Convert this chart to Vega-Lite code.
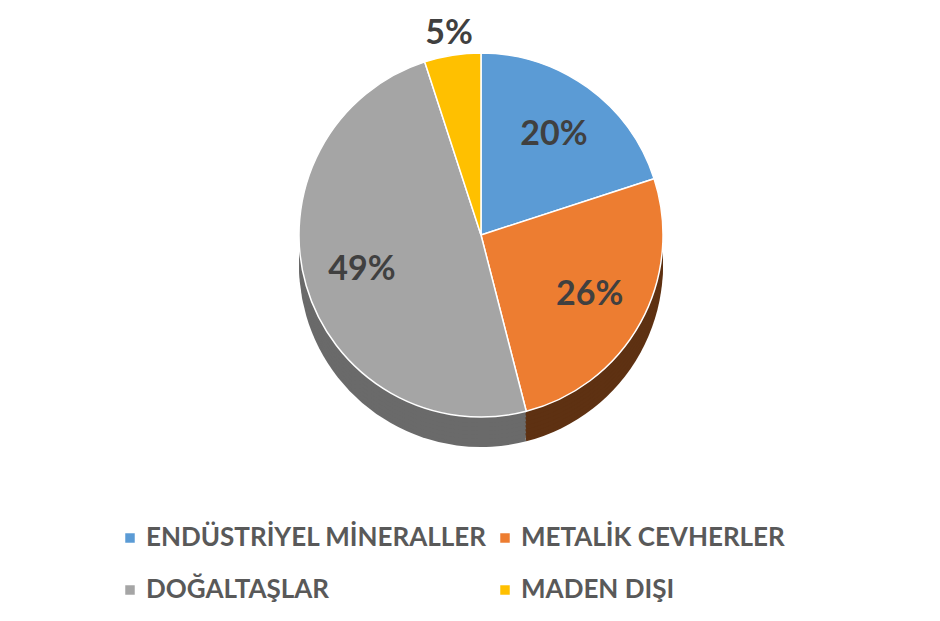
{
  "$schema": "https://vega.github.io/schema/vega-lite/v6.json",
  "autosize": "none",
  "width": 918,
  "height": 470,
  "padding": {"left": 22, "top": 0, "right": 0, "bottom": 151},
  "background": "white",
  "config": {"view": {"stroke": null}},
  "data": {
    "values": [
      {"cat": "ENDÜSTRİYEL MİNERALLER", "value": 20, "order": 1, "label": "20%"},
      {"cat": "METALİK CEVHERLER", "value": 26, "order": 2, "label": "26%"},
      {"cat": "DOĞALTAŞLAR", "value": 49, "order": 3, "label": "49%"},
      {"cat": "MADEN DIŞI", "value": 5, "order": 4, "label": "5%"}
    ]
  },
  "encoding": {
    "theta": {"field": "value", "type": "quantitative", "stack": true},
    "order": {"field": "order", "type": "quantitative"}
  },
  "layer": [
    {
      "mark": {"type": "arc", "outerRadius": 182, "yOffset": 30},
      "encoding": {"fill": {"field": "label", "type": "nominal", "legend": null, "scale": {"domain": ["20%", "26%", "49%", "5%"], "range": ["#2e5a82", "#5e3112", "#6a6a6a", "#7f6000"]}}}
    },
    {
      "mark": {"type": "arc", "outerRadius": 182, "yOffset": 26},
      "encoding": {"fill": {"field": "label", "type": "nominal", "legend": null}}
    },
    {
      "mark": {"type": "arc", "outerRadius": 182, "yOffset": 22},
      "encoding": {"fill": {"field": "label", "type": "nominal", "legend": null}}
    },
    {
      "mark": {"type": "arc", "outerRadius": 182, "yOffset": 18},
      "encoding": {"fill": {"field": "label", "type": "nominal", "legend": null}}
    },
    {
      "mark": {"type": "arc", "outerRadius": 182, "yOffset": 14},
      "encoding": {"fill": {"field": "label", "type": "nominal", "legend": null}}
    },
    {
      "mark": {"type": "arc", "outerRadius": 182, "yOffset": 10},
      "encoding": {"fill": {"field": "label", "type": "nominal", "legend": null}}
    },
    {
      "mark": {"type": "arc", "outerRadius": 182, "yOffset": 6},
      "encoding": {"fill": {"field": "label", "type": "nominal", "legend": null}}
    },
    {
      "mark": {"type": "arc", "outerRadius": 182, "yOffset": 2},
      "encoding": {"fill": {"field": "label", "type": "nominal", "legend": null}}
    },
    {
      "mark": {"type": "arc", "outerRadius": 182, "stroke": "white", "strokeWidth": 1.5},
      "encoding": {
        "color": {
          "field": "cat",
          "type": "nominal",
          "scale": {"domain": ["ENDÜSTRİYEL MİNERALLER", "METALİK CEVHERLER", "DOĞALTAŞLAR", "MADEN DIŞI"], "range": ["#5b9bd5", "#ed7d31", "#a5a5a5", "#ffc000"]},
          "legend": {
            "title": null,
            "orient": "none",
            "legendX": 95,
            "legendY": 525,
            "columns": 2,
            "values": ["ENDÜSTRİYEL MİNERALLER", "DOĞALTAŞLAR", "METALİK CEVHERLER", "MADEN DIŞI"],
            "columnPadding": 5,
            "rowPadding": 26,
            "symbolType": "square",
            "symbolSize": 90,
            "symbolStrokeWidth": 0,
            "labelFont": "Lato",
            "labelFontSize": 26,
            "labelFontWeight": "bold",
            "labelColor": "#595959",
            "labelLimit": 500,
            "labelOffset": 3
          }
        }
      }
    },
    {
      "mark": {"type": "text", "radius": 124, "font": "Lato", "fontWeight": "bold", "fontSize": 34, "color": "#404040"},
      "encoding": {"text": {"condition": {"test": "datum.value >= 10", "field": "label"}, "value": ""}}
    },
    {
      "mark": {"type": "text", "radius": 204, "font": "Lato", "fontWeight": "bold", "fontSize": 34, "color": "#404040"},
      "encoding": {"text": {"condition": {"test": "datum.value < 10", "field": "label"}, "value": ""}}
    }
  ]
}
